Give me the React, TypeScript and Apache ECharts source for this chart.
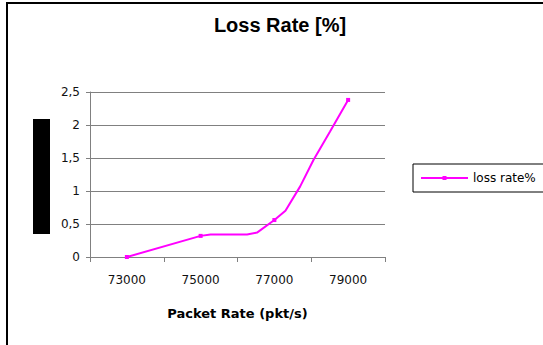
import React, { useEffect, useRef } from "react";
import * as echarts from "echarts";

const seriesName = "loss rate%";
const xValues = [73000, 75000, 75270, 76260, 76530, 77000, 77300, 77700, 78060, 78510, 79000];
const yValues = [0, 0.32, 0.34, 0.34, 0.37, 0.56, 0.7, 1.07, 1.47, 1.9, 2.38];
const markedX = [73000, 75000, 77000, 79000];
const xLabels = ["73000", "75000", "77000", "79000"];

export default function App() {
  const ref = useRef<HTMLDivElement>(null);
  useEffect(() => {
    if (!ref.current) return;
    const chart = echarts.init(ref.current, null, { renderer: "svg" });
    const data = xValues.map((x, i) =>
      markedX.includes(x)
        ? { value: [x, yValues[i]] }
        : { value: [x, yValues[i]], symbol: "none" }
    );
    const labelFont = "DejaVu Sans";
    chart.setOption({
      animation: false,
      backgroundColor: "#ffffff",
      title: {
        text: "Loss Rate [%]",
        left: 275,
        textAlign: "center",
        top: 10,
        textStyle: { fontFamily: "Liberation Sans", fontWeight: "bold", fontSize: 20, color: "#000" },
      },
      grid: { left: 90, right: 158, top: 92, bottom: 88 },
      legend: {
        left: 413,
        top: 164,
        padding: [8, 10, 8, 7],
        borderColor: "#000",
        borderWidth: 1,
        itemWidth: 47,
        itemHeight: 5,
        textStyle: { fontFamily: labelFont, fontSize: 12, color: "#000" },
        data: [seriesName],
      },
      xAxis: [
        {
          type: "value",
          min: 72000,
          max: 80000,
          interval: 1000,
          axisLine: { show: true, lineStyle: { color: "#808080", width: 1 } },
          axisTick: { show: false },
          splitLine: { show: false },
          axisLabel: {
            showMinLabel: true,
            showMaxLabel: true,
            margin: 17,
            fontFamily: labelFont,
            fontSize: 12,
            color: "#111",
            formatter: (v: number) => (xLabels.includes(String(v)) ? String(v) : ""),
          },
          name: "Packet Rate (pkt/s)",
          nameLocation: "middle",
          nameGap: 50,
          nameTextStyle: { fontFamily: labelFont, fontWeight: "bold", fontSize: 13, color: "#000" },
        },
        {
          type: "value",
          position: "bottom",
          min: 72000,
          max: 80000,
          interval: 2000,
          axisLine: { show: false },
          axisTick: { show: true, length: 5, lineStyle: { color: "#808080" } },
          axisLabel: { show: false },
          splitLine: { show: false },
        },
      ],
      yAxis: {
        type: "value",
        min: 0,
        max: 2.5,
        interval: 0.5,
        axisLine: { show: true, lineStyle: { color: "#808080", width: 1 } },
        axisTick: { show: true, length: 4, lineStyle: { color: "#808080" } },
        splitLine: { show: true, lineStyle: { color: "#808080", width: 1 } },
        axisLabel: {
          margin: 10,
          fontFamily: labelFont,
          fontSize: 12,
          color: "#111",
          formatter: (v: number) => String(v).replace(".", ","),
        },
      },
      series: [
        {
          name: seriesName,
          type: "line",
          xAxisIndex: 0,
          data,
          symbol: "rect",
          symbolSize: 4,
          showSymbol: true,
          showAllSymbol: true,
          lineStyle: { color: "#ff00ff", width: 2 },
          itemStyle: { color: "#ff00ff" },
        },
      ],
      graphic: [
        {
          type: "rect",
          shape: { x: 7, y: 3, width: 600, height: 400 },
          style: { fill: "none", stroke: "#000", lineWidth: 2 },
          silent: true,
        },
        {
          type: "rect",
          shape: { x: 33, y: 119, width: 17, height: 115 },
          style: { fill: "#000" },
          silent: true,
        },
      ],
    });
    return () => chart.dispose();
  }, []);
  return (
    <div
      ref={ref}
      style={{ position: "fixed", left: 0, top: 0, width: 543, height: 345 }}
    />
  );
}
